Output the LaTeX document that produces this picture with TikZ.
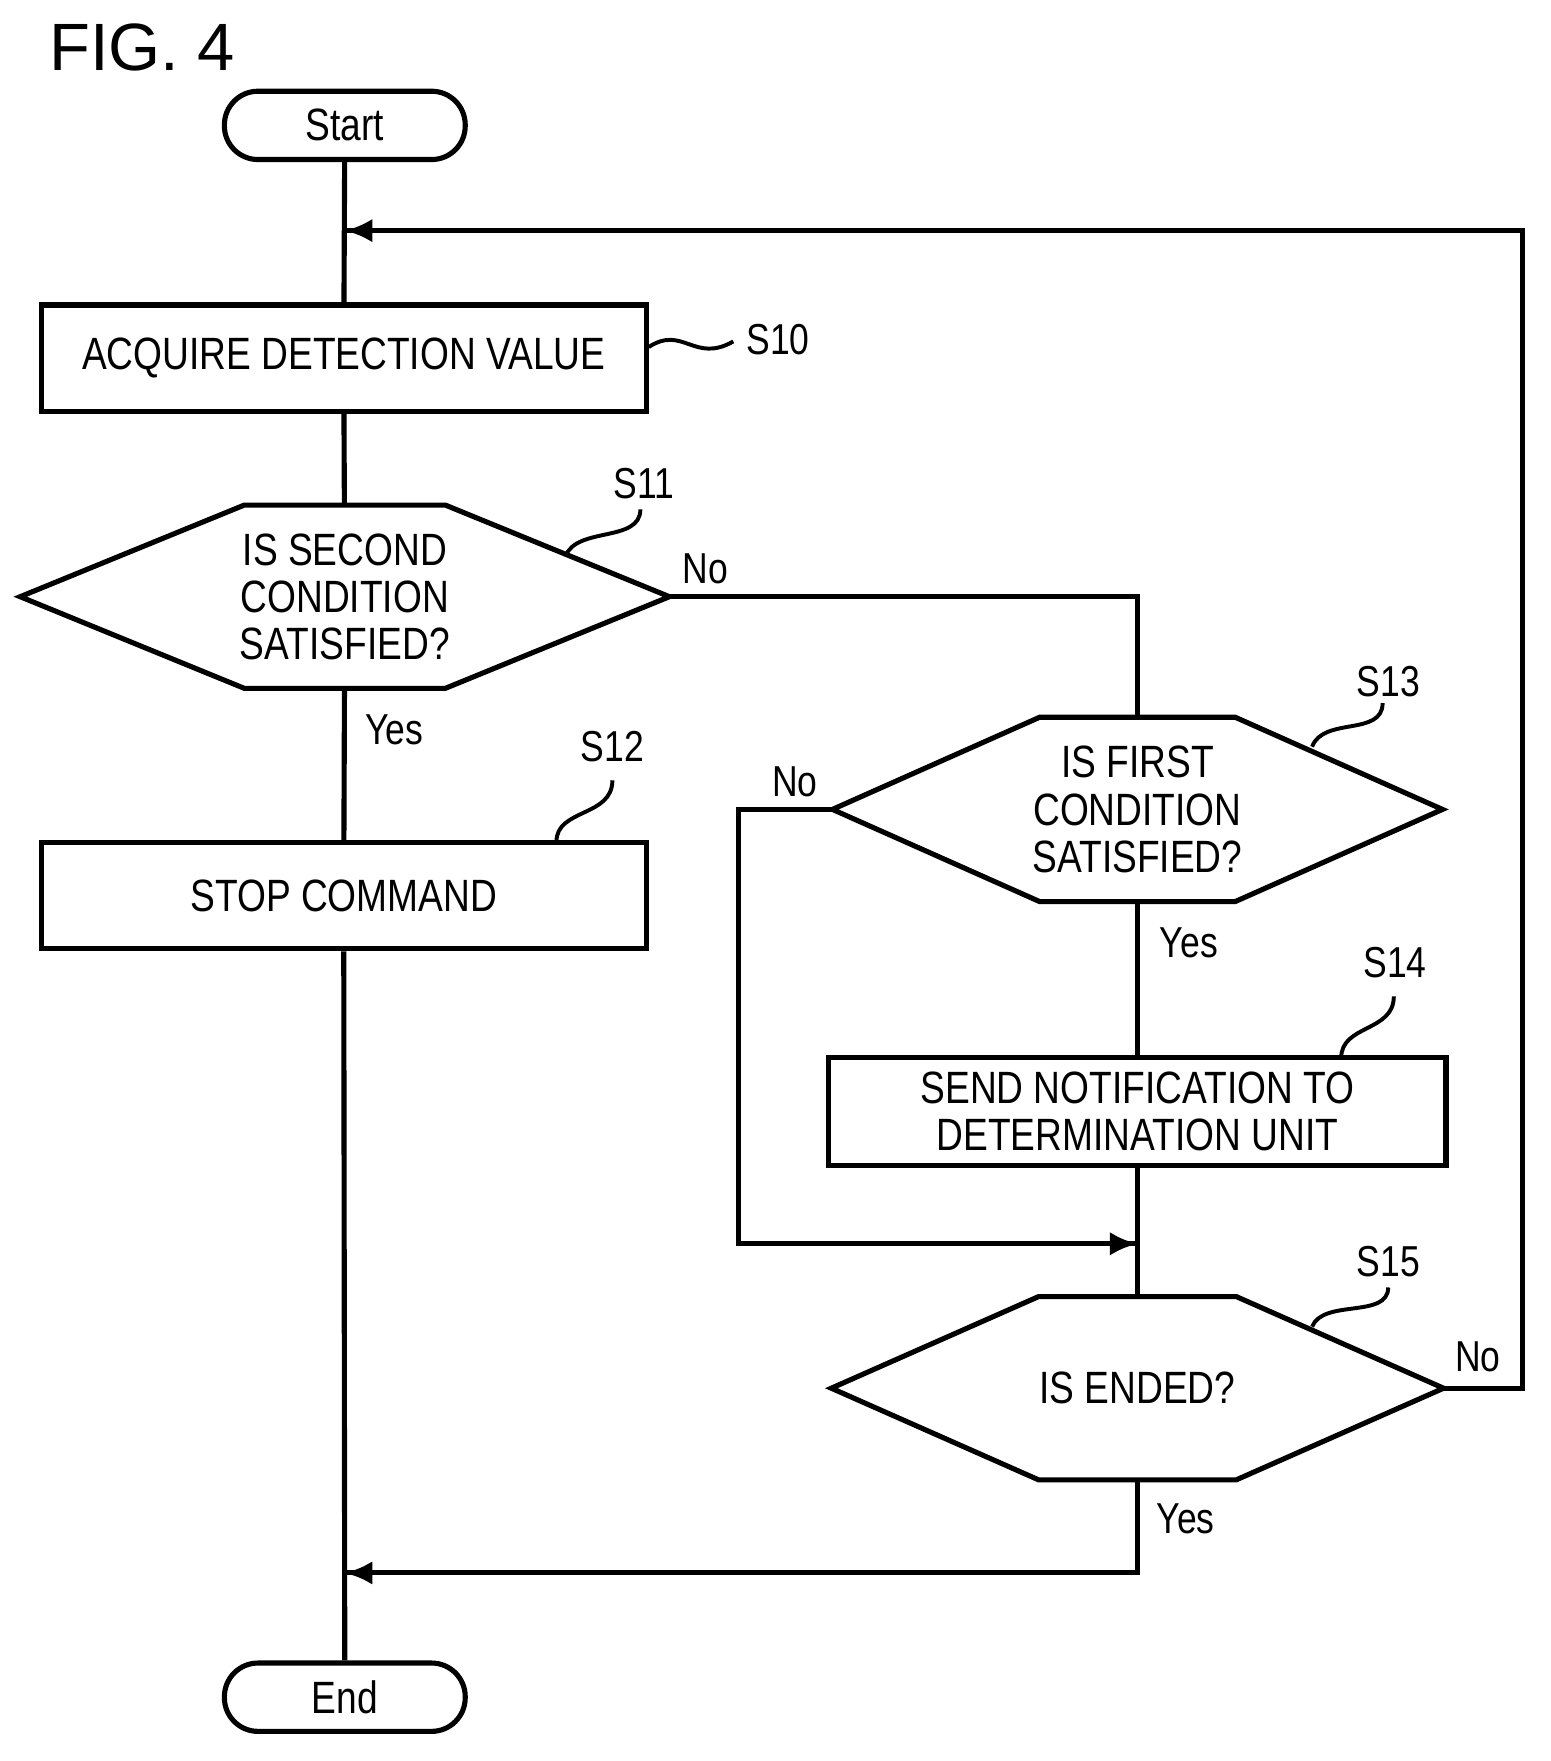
\documentclass[tikz,border=0pt]{standalone}
\usepackage{fontspec}
\setmainfont{Liberation Sans}
\newfontfamily\flowfont{Liberation Sans}[FakeStretch=0.82]
\usetikzlibrary{arrows.meta,calc}
\begin{document}
\begin{tikzpicture}[
    x=0.01cm, y=-0.01cm,
    line width=1.3pt,
    box/.style={rectangle, draw, minimum width=5.4cm, minimum height=0.95cm, align=center, font=\flowfont\fontsize{11.5}{12}\selectfont},
    term/.style={rectangle, draw, rounded corners=0.3cm, minimum width=2.15cm, minimum height=0.61cm, font=\flowfont\fontsize{11.5}{12}\selectfont},
    hexa/.style={rectangle, draw=none, align=center, font=\flowfont\fontsize{11.5}{12}\selectfont, inner sep=0pt},
    lbl/.style={font=\flowfont\fontsize{11}{12}\selectfont},
    arrow/.style={-{Latex[length=7pt,width=6pt]}}
]
\useasboundingbox (0,0) rectangle (1385,1573);

% Title
\node[anchor=west, font=\fontsize{17}{18}\selectfont] at (30,42) {FIG. 4};

% Terminals and steps
\node[term] (start) at (308,112) {Start};
\node[box] (s10) at (307,320) {ACQUIRE DETECTION VALUE};
\node[hexa, minimum width=5.75cm, minimum height=1.59cm] (s11) at (308,533) {IS SECOND\\CONDITION\\SATISFIED?};
\node[box] (s12) at (307,800) {STOP COMMAND};
\node[hexa, minimum width=5.4cm, minimum height=1.6cm] (s13) at (1016,723) {IS FIRST\\CONDITION\\SATISFIED?};
\node[box, minimum width=5.51cm, minimum height=0.96cm] (s14) at (1016,993) {SEND NOTIFICATION TO\\DETERMINATION UNIT};
\node[hexa, minimum width=5.42cm, minimum height=1.59cm] (s15) at (1016,1240) {IS ENDED?};
\node[term] (end) at (308,1516) {End};

% Hexagon outlines
\foreach \n/\d in {s11/2.0cm, s13/1.85cm, s15/1.85cm}{
  \draw (\n.west) -- ([xshift=\d]\n.north west) -- ([xshift=-\d]\n.north east)
        -- (\n.east) -- ([xshift=-\d]\n.south east) -- ([xshift=\d]\n.south west) -- cycle;
}

% Junction coordinates
\coordinate (loop) at (308,206);
\coordinate (loopr) at (1360,206);
\coordinate (merge) at (308,1405);
\coordinate (join) at (1016,1111);
\coordinate (nor) at (660,723);

% Main line
\draw (start) -- (s10) -- (s11) -- (s12) -- (end);
% Branches
\draw (s11.east) -| (s13.north);
\draw (s13) -- (s14) -- (s15);
\draw (s13.west) -- (nor) |- (join);
\draw[arrow] (nor |- join) -- (join);
\draw (s15.south) |- (merge);
\draw[arrow] (s15.south |- merge) -- (merge);
\draw (s15.east) -| (loopr) -- (loop);
\draw[arrow] (loopr) -- (loop);

% Branch labels
\node[lbl] at (630,508) {No};
\node[lbl] at (352,652) {Yes};
\node[lbl] at (710,698) {No};
\node[lbl] at (1062,842) {Yes};
\node[lbl] at (1320,1212) {No};
\node[lbl] at (1059,1357) {Yes};

% Step labels with leaders
\node[lbl] (l10) at (695,303) {S10};
\draw[line width=1pt] (s10.east |- 0,310) .. controls (610,290) and (620,325) .. (655,305);
\node[lbl] (l11) at (575,432) {S11};
\draw[line width=1pt] (505,497) .. controls (515,470) and (572,485) .. (572,455);
\node[lbl] (l12) at (547,667) {S12};
\draw[line width=1pt] (497,752) .. controls (497,722) and (547,730) .. (547,697);
\node[lbl] (l13) at (1240,609) {S13};
\draw[line width=1pt] (1172,667) .. controls (1182,640) and (1235,658) .. (1235,628);
\node[lbl] (l14) at (1246,860) {S14};
\draw[line width=1pt] (1198,945) .. controls (1198,915) and (1245,922) .. (1245,890);
\node[lbl] (l15) at (1240,1127) {S15};
\draw[line width=1pt] (1172,1185) .. controls (1182,1160) and (1240,1178) .. (1240,1150);
\end{tikzpicture}
\end{document}
